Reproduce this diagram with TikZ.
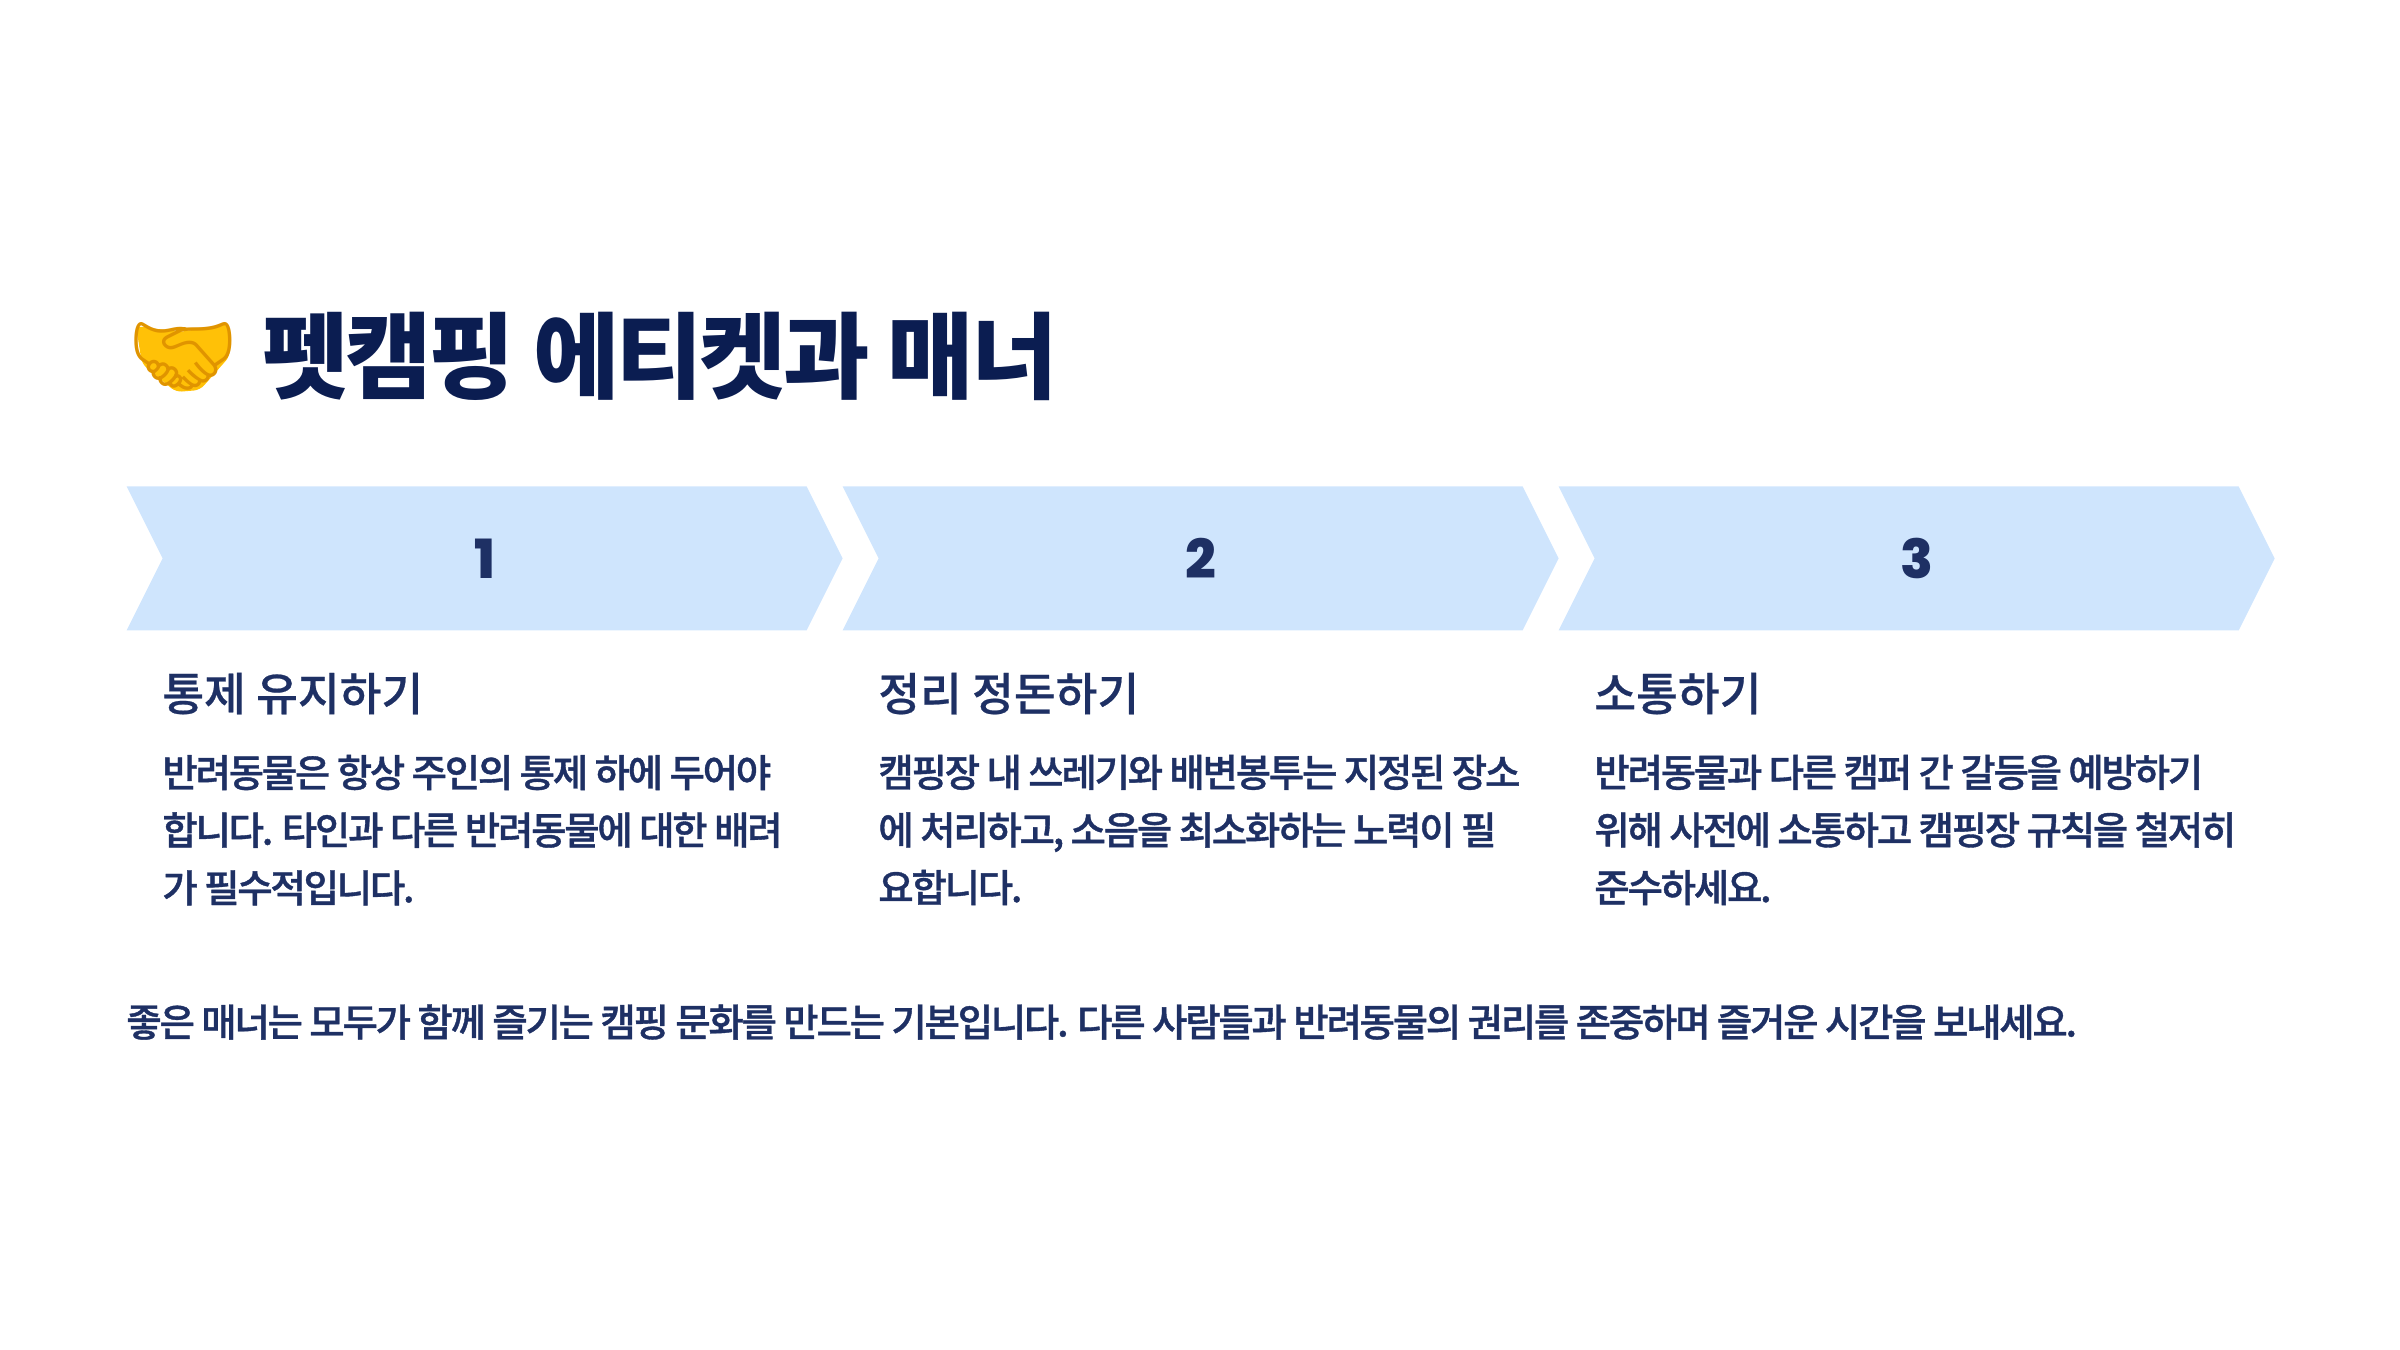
\documentclass[tikz,border=0pt]{standalone}
\usepackage{xcolor}
\usepackage{fontspec}
\usetikzlibrary{shapes.symbols, positioning, calc}
\setmainfont{Noto Sans CJK KR}[LetterSpace=-3.5]
\newfontfamily\headfont{Noto Sans CJK KR Medium}[FakeBold=0.5]
\newfontfamily\medfont{Noto Sans CJK KR Medium}[LetterSpace=-5.7,FakeBold=1]
\newfontfamily\numfont{Poppins ExtraBold}
\newfontfamily\emojifont{Noto Emoji}
\definecolor{titleblue}{HTML}{0B1D51}
\definecolor{textblue}{HTML}{1E3064}
\definecolor{chevblue}{HTML}{CFE5FD}
\definecolor{handgold}{HTML}{FFC107}
\definecolor{handline}{HTML}{E09400}

\begin{document}
\begin{tikzpicture}[
    chevron/.style={signal, signal to=east, signal from=west, signal pointer angle=126.87, fill=chevblue, minimum width=358pt, minimum height=72pt, inner sep=0pt, font=\numfont\fontsize{27}{28}\selectfont, text=textblue},
    head/.style={inner sep=0pt, text=textblue, text height=17pt, text depth=5pt, font=\headfont\fontsize{22.7}{28}\selectfont},
    body/.style={inner sep=0pt, text=textblue, align=left, font=\medfont\fontsize{19.2}{28.8}\selectfont}
]
\useasboundingbox (0,0) rectangle (1200pt,-675pt);
\fill[handgold, rounded corners=3pt] (68pt,-163pt) -- (90pt,-166pt) -- (114pt,-162pt) -- (115pt,-178pt) -- (100pt,-195pt) -- (88pt,-196pt) -- (71pt,-182pt) -- cycle;
\node[inner sep=0pt, text=handline, font=\emojifont\fontsize{44}{48}\selectfont] (hands) at (91.5pt,-178pt) {🤝};
\node[inner sep=0pt, anchor=west, text=titleblue, font=\bfseries\fontsize{47}{54}\selectfont] (title) at (131pt,-178pt) {펫캠핑 에티켓과 매너};

\node[chevron, anchor=north west] (one) at (63pt,-243pt) {1};
\node[chevron, anchor=north west] (two) at (421pt,-243pt) {2};
\node[chevron, anchor=north west] (three) at (779pt,-243pt) {3};

\node[head, below right=22.7pt and 18pt of one.south west] (headone) {통제 유지하기};
\node[head, below right=22.7pt and 18pt of two.south west] (headtwo) {정리 정돈하기};
\node[head, below right=22.7pt and 18pt of three.south west] (headthree) {소통하기};

\node[body, below right=16.7pt and 0pt of headone.south west] (bodyone) {반려동물은 항상 주인의 통제 하에 두어야\\합니다. 타인과 다른 반려동물에 대한 배려\\가 필수적입니다.};
\node[body, below right=16.7pt and 0pt of headtwo.south west] (bodytwo) {캠핑장 내 쓰레기와 배변봉투는 지정된 장소\\에 처리하고, 소음을 최소화하는 노력이 필\\요합니다.};
\node[body, below right=16.7pt and 0pt of headthree.south west] (bodythree) {반려동물과 다른 캠퍼 간 갈등을 예방하기\\위해 사전에 소통하고 캠핑장 규칙을 철저히\\준수하세요.};

\node[body, anchor=west] (closing) at (63pt,-511pt) {좋은 매너는 모두가 함께 즐기는 캠핑 문화를 만드는 기본입니다. 다른 사람들과 반려동물의 권리를 존중하며 즐거운 시간을 보내세요.};
\end{tikzpicture}
\end{document}
